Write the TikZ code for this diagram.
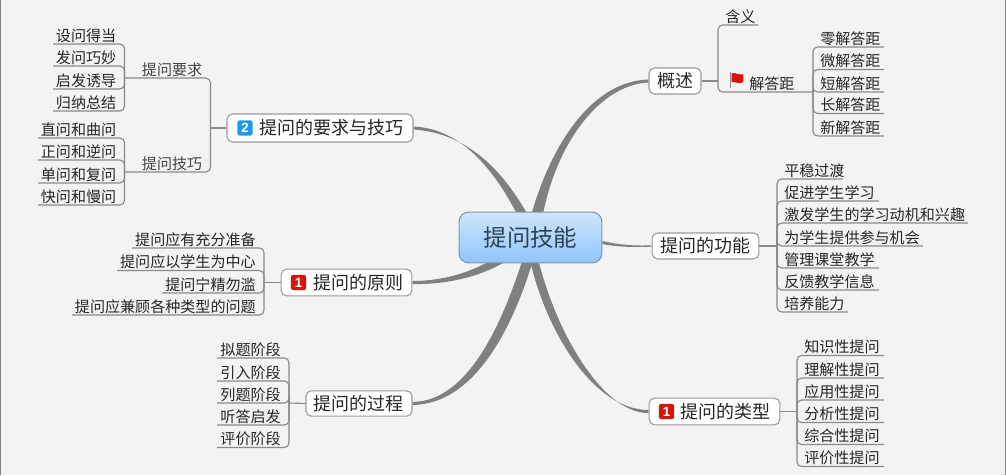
\documentclass[tikz,border=0pt]{standalone}
\usepackage{fontspec}
\setmainfont{Noto Sans CJK SC}
\newfontfamily\digitfont{Liberation Sans}
\usetikzlibrary{calc,backgrounds}
\definecolor{pagebg}{HTML}{F3F3F3}
\definecolor{framegray}{HTML}{808080}
\definecolor{linegray}{HTML}{8A8A8A}
\definecolor{bandgray}{HTML}{808080}
\definecolor{boxgray}{HTML}{9A9A9A}
\definecolor{inkdark}{HTML}{262626}
\definecolor{inkmid}{HTML}{444444}
\definecolor{hubink}{HTML}{2F4358}
\definecolor{hubedge}{HTML}{7F97AE}
\definecolor{hubtop}{HTML}{CFE5FB}
\definecolor{hubmid}{HTML}{A3CFFB}
\definecolor{hubbot}{HTML}{8FC6FC}
\definecolor{iconred}{HTML}{D8140A}
\definecolor{iconblue}{HTML}{1C9AE8}
\tikzset{
  conn/.style={draw=linegray,line width=0.85pt,rounded corners=3.5pt},
  band/.style={fill=bandgray,draw=none},
  leaftext/.style={inner sep=0pt,text=inkdark,font=\fontsize{11.3}{13}\selectfont},
  branchbox/.style={draw=boxgray,line width=0.8pt,fill=white,rounded corners=4pt,inner sep=0pt,
    text=inkdark,font=\fontsize{13.5}{16}\selectfont,text height=11.9pt,text depth=1.6pt},
  hubbox/.style={draw=hubedge,line width=0.8pt,rounded corners=7pt,inner sep=0pt,
    top color=hubtop,middle color=hubmid,bottom color=hubbot,
    text=hubink,font=\fontsize{17.6}{20}\selectfont,text height=15.5pt,text depth=2.1pt},
  iconbox/.style={rounded corners=2pt,inner sep=0pt,minimum width=11.6pt,minimum height=11.6pt,
    text=white,font=\digitfont\bfseries\fontsize{10}{10}\selectfont},
}
% name, left end, spine x, line y, junction, text
\newcommand\leafL[6]{%
  \coordinate (#1-a) at (#2,#4);
  \node[leaftext,anchor=base east] (#1) at ({#3-8},{#4-3}) {#6};
  \draw[conn] (#1-a) -| (#5);
}
% name, spine x, right end, line y, junction, text
\newcommand\leafR[6]{%
  \coordinate (#1-a) at (#3,#4);
  \node[leaftext,anchor=base west] (#1) at ({#2+7},{#4-3}) {#6};
  \draw[conn] (#1-a) -| (#5);
}
\begin{document}
\begin{tikzpicture}[x=0.75pt,y=-0.75pt]
\useasboundingbox (0,0) rectangle (1006,475);

% main nodes
\node[hubbox,minimum width=107pt,minimum height=38pt] (hub) at (530.5,237.5) {提问技能};
\node[branchbox,minimum width=139.5pt,minimum height=21pt] (skill) at (320,128) {\hspace*{16.5pt}提问的要求与技巧};
\node[iconbox,fill=iconblue] (iconskill) at (245,128) {2};
\node[branchbox,minimum width=98pt,minimum height=20pt] (principle) at (346.5,282.5) {\hspace*{18pt}提问的原则};
\node[iconbox,fill=iconred] (iconprinciple) at (298.5,282.5) {1};
\node[branchbox,minimum width=79.5pt,minimum height=19pt] (process) at (359,403.5) {\hspace*{-1.5pt}提问的过程};
\node[branchbox,minimum width=39pt,minimum height=19.5pt] (overview) at (675,81) {概述};
\node[branchbox,minimum width=80pt,minimum height=19.5pt] (function) at (705.5,246) {提问的功能};
\node[branchbox,minimum width=98pt,minimum height=20pt] (types) at (714.5,411.5) {\hspace*{16.5pt}提问的类型};
\node[iconbox,fill=iconred] (icontypes) at (666.5,411.5) {1};

% junctions
\coordinate (jskill) at (210.5,128);
\coordinate (jreq) at (124.5,78);
\coordinate (jtech) at (124.5,172);
\coordinate (jprinciple) at (264,282.5);
\coordinate (jprocess) at (289,403);
\coordinate (joverview) at (718,81);
\coordinate (janswer) at (813,92);
\coordinate (jfunction) at (777,246);
\coordinate (jtypes) at (797,411.5);

\draw[conn] (skill.west) -- (jskill);
\draw[conn] (principle.west) -- (jprinciple);
\draw[conn] (process.west) -- (jprocess);
\draw[conn] (overview.east) -- (joverview);
\draw[conn] (function.east) -- (jfunction);
\draw[conn] (types.east) -- (jtypes);

% skill group
\leafL{req}{124.5}{210.5}{78}{jskill}{\textcolor{inkmid}{提问要求}}
\leafL{tech}{124.5}{210.5}{172}{jskill}{\textcolor{inkmid}{提问技巧}}
\leafL{ra}{53}{124.5}{44}{jreq}{设问得当}
\leafL{rb}{53}{124.5}{66}{jreq}{发问巧妙}
\leafL{rc}{53}{124.5}{89}{jreq}{启发诱导}
\leafL{rd}{53}{124.5}{111}{jreq}{归纳总结}
\leafL{ta}{38}{124.5}{138}{jtech}{直问和曲问}
\leafL{tb}{38}{124.5}{160}{jtech}{正问和逆问}
\leafL{tc}{38}{124.5}{183}{jtech}{单问和复问}
\leafL{td}{38}{124.5}{205}{jtech}{快问和慢问}

% principle group
\leafL{pa}{132}{264}{248}{jprinciple}{提问应有充分准备}
\leafL{pb}{117}{264}{270.5}{jprinciple}{提问应以学生为中心}
\leafL{pc}{162}{264}{293}{jprinciple}{提问宁精勿滥}
\leafL{pd}{72}{264}{315}{jprinciple}{提问应兼顾各种类型的问题}

% process group
\leafL{sa}{217}{289}{358}{jprocess}{拟题阶段}
\leafL{sb}{217}{289}{381}{jprocess}{引入阶段}
\leafL{sc}{217}{289}{403}{jprocess}{列题阶段}
\leafL{sd}{217}{289}{425}{jprocess}{听答启发}
\leafL{se}{217}{289}{447.5}{jprocess}{评价阶段}

% overview group
\leafR{mean}{718}{758}{25}{joverview}{含义}
\coordinate (answer-a) at (813,92);
\node[leaftext,anchor=base west] (answer) at (749,89) {解答距};
\draw[conn] (answer-a) -| (joverview);
\node[inner sep=0pt,minimum width=10pt,minimum height=11pt] (flag) at (736.5,80) {};
\fill[color=linegray] ($(flag.north west)+(0,0)$) rectangle ($(flag.south west)+(1.6,0)$);
\fill[color=iconred] ($(flag.north west)+(2,1)$) .. controls (734,72) and (738,75) .. ($(flag.north east)+(0,2)$)
  -- ($(flag.east)+(0,2)$) .. controls (739,85) and (735,81) .. ($(flag.west)+(2,2)$) -- cycle;
\leafR{aa}{813}{884}{47}{janswer}{零解答距}
\leafR{ab}{813}{884}{69.5}{janswer}{微解答距}
\leafR{ac}{813}{884}{92}{janswer}{短解答距}
\leafR{ad}{813}{884}{113.5}{janswer}{长解答距}
\leafR{ae}{813}{884}{136}{janswer}{新解答距}

% function group
\leafR{fa}{777}{843}{179}{jfunction}{平稳过渡}
\leafR{fb}{777}{879}{201}{jfunction}{促进学生学习}
\leafR{fc}{777}{968}{223}{jfunction}{激发学生的学习动机和兴趣}
\leafR{fd}{777}{923}{246}{jfunction}{为学生提供参与机会}
\leafR{fe}{777}{879}{268}{jfunction}{管理课堂教学}
\leafR{ff}{777}{879}{290}{jfunction}{反馈教学信息}
\leafR{fg}{777}{848}{312}{jfunction}{培养能力}

% types group
\leafR{ya}{797}{884}{355.5}{jtypes}{知识性提问}
\leafR{yb}{797}{884}{378}{jtypes}{理解性提问}
\leafR{yc}{797}{884}{400}{jtypes}{应用性提问}
\leafR{yd}{797}{884}{422.5}{jtypes}{分析性提问}
\leafR{ye}{797}{884}{444.5}{jtypes}{综合性提问}
\leafR{yf}{797}{884}{466.5}{jtypes}{评价性提问}

\begin{scope}[on background layer]
  \fill[pagebg] (0,0) rectangle (1006,475);
  \fill[framegray] (0,0) rectangle (1.2,475);
  \fill[framegray] (1004.6,0) rectangle (1006,475);
  % tapered main branches, from the hub to each branch box
  \fill[band] ($(hub.center)+(-5,0)$) .. controls (545,150) and (590,81) .. ($(overview.west)+(0,-1.5)$)
     -- ($(overview.west)+(0,1.5)$) .. controls (595,85) and (548,155) .. ($(hub.center)+(9,0)$) -- cycle;
  \fill[band] ($(hub.center)+(-2,0)$) .. controls (500,175) and (465,129) .. ($(skill.east)+(0,-1.5)$)
     -- ($(skill.east)+(0,1.5)$) .. controls (470,133) and (510,175) .. ($(hub.center)+(9,0)$) -- cycle;
  \fill[band] ($(hub.center)+(-10,0)$) .. controls (490,268) and (450,281) .. ($(principle.east)+(0,-1.5)$)
     -- ($(principle.east)+(0,1.5)$) .. controls (455,285) and (505,272) .. ($(hub.center)+(4,0)$) -- cycle;
  \fill[band] ($(hub.center)+(-1,0)$) .. controls (505,320) and (470,401) .. ($(process.east)+(0,-1.5)$)
     -- ($(process.east)+(0,1.5)$) .. controls (478,404) and (518,320) .. ($(hub.center)+(9,0)$) -- cycle;
  \fill[band] ($(hub.center)+(-5,0)$) .. controls (538,320) and (590,410) .. ($(types.west)+(0,-1.5)$)
     -- ($(types.west)+(0,1.5)$) .. controls (600,414) and (548,320) .. ($(hub.center)+(3,0)$) -- cycle;
  \fill[band] ($(hub.east)+(0,6.5)$) .. controls (620,247.5) and (635,247) .. ($(function.west)+(0,0.7)$)
     -- ($(function.west)+(0,-0.7)$) .. controls (635,246) and (620,245) .. ($(hub.east)+(0,6.5)+(0,-3)$) -- cycle;
\end{scope}
\end{tikzpicture}
\end{document}
